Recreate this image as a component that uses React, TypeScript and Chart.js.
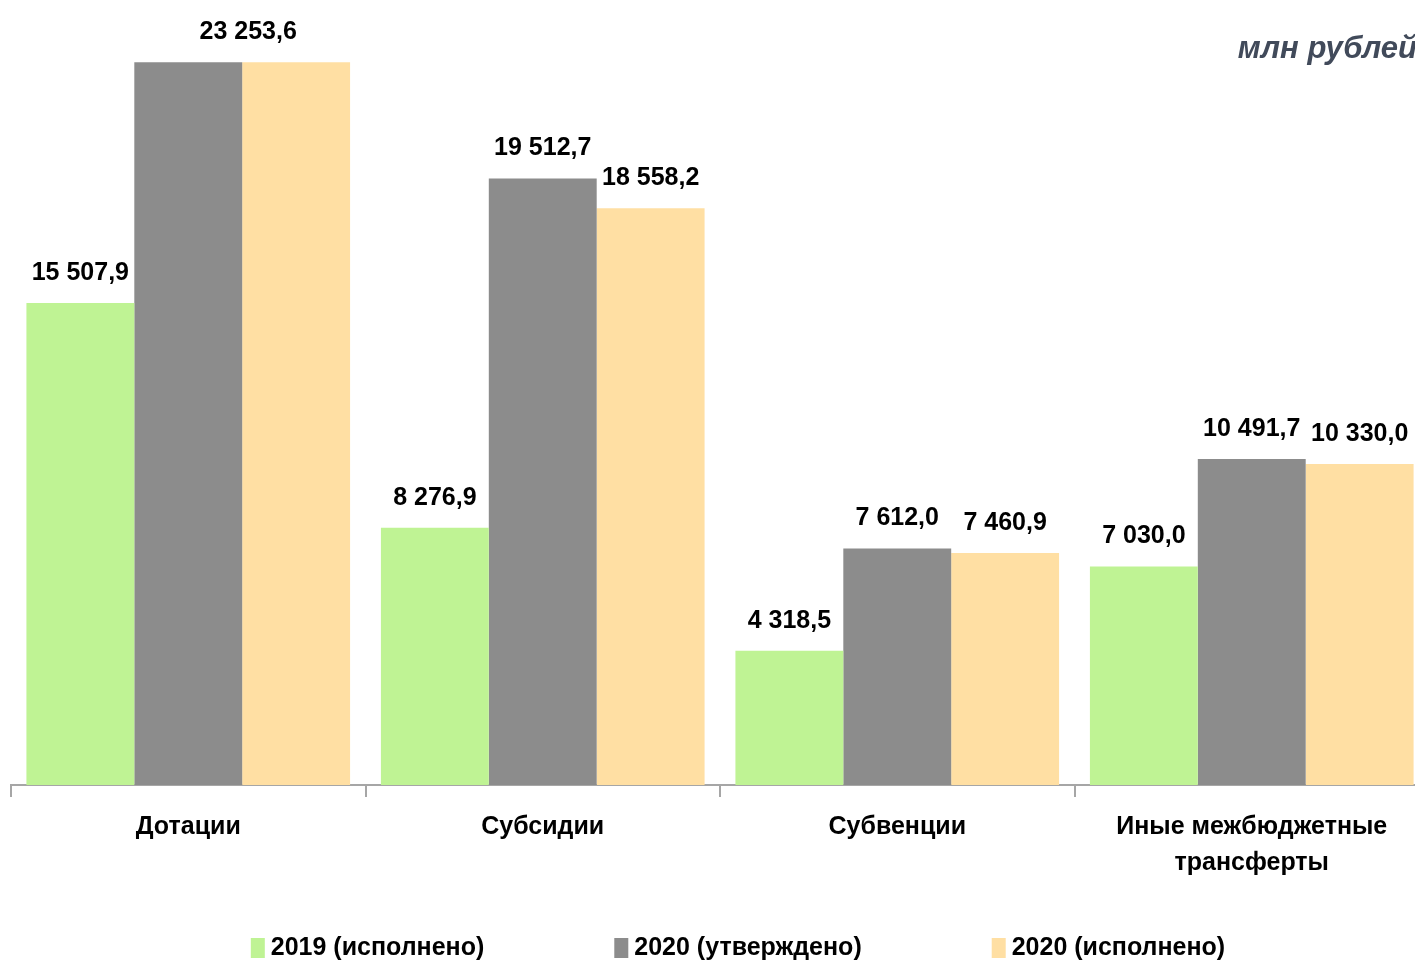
import React, { useEffect, useRef } from "react";
import { Chart, registerables } from "chart.js";

Chart.register(...registerables);

const categories: (string | string[])[] = ["Дотации", "Субсидии", "Субвенции", ["Иные межбюджетные", "трансферты"]];
const seriesNames = ["2019 (исполнено)", "2020 (утверждено)", "2020 (исполнено)"];
const values2019 = [15507.9, 8276.9, 4318.5, 7030.0];
const values2020Plan = [23253.6, 19512.7, 7612.0, 10491.7];
const values2020Fact = [23253.6, 18558.2, 7460.9, 10330.0];
const seriesColors = ["#bff394", "#8c8c8c", "#ffdfa3"];
const unitLabel = "млн рублей";

const FONT = "'Liberation Sans', Arial, sans-serif";

function fmt(v: number): string {
  const [i, d] = v.toFixed(1).split(".");
  return i.replace(/\B(?=(\d{3})+(?!\d))/g, " ") + "," + d;
}

const labelPlugin = {
  id: "barLabels",
  afterDatasetsDraw(chart: any) {
    const ctx = chart.ctx;
    ctx.save();
    ctx.font = `bold 25px ${FONT}`;
    ctx.fillStyle = "#000";
    ctx.textAlign = "center";
    ctx.textBaseline = "middle";
    const n = chart.data.datasets.length;
    for (let i = 0; i < n; i++) {
      const meta = chart.getDatasetMeta(i);
      const data = chart.data.datasets[i].data as number[];
      meta.data.forEach((el: any, j: number) => {
        const v = data[j];
        if (i > 0 && (chart.data.datasets[i - 1].data as number[])[j] === v) return;
        let x = el.x;
        if (i < n - 1 && (chart.data.datasets[i + 1].data as number[])[j] === v) {
          const nextEl = chart.getDatasetMeta(i + 1).data[j] as any;
          x = (el.x + nextEl.x) / 2 + 6;
        }
        ctx.fillText(fmt(v), x, el.y - 30);
      });
    }
    // unit caption
    ctx.font = `italic bold 31px ${FONT}`;
    ctx.fillStyle = "#414a5a";
    ctx.textAlign = "right";
    ctx.fillText(unitLabel, 1409, 41);

    // legend
    ctx.font = `bold 25px ${FONT}`;
    ctx.textAlign = "left";
    const boxW = 14, boxH = 20, boxGap = 6, itemGap = 130;
    const widths = chart.data.datasets.map((ds: any) => boxW + boxGap + ctx.measureText(ds.label).width);
    const total = widths.reduce((a: number, b: number) => a + b, 0) + itemGap * (widths.length - 1);
    const ca = chart.chartArea;
    let x = (ca.left + ca.right) / 2 + 18 - total / 2;
    const y = chart.height - 14;
    chart.data.datasets.forEach((ds: any, i: number) => {
      ctx.fillStyle = ds.backgroundColor;
      ctx.fillRect(x, y - boxH / 2, boxW, boxH);
      ctx.fillStyle = "#000";
      ctx.fillText(ds.label, x + boxW + boxGap, y);
      x += widths[i] + itemGap;
    });
    ctx.restore();
  },
};

export default function App() {
  const ref = useRef<HTMLCanvasElement | null>(null);
  useEffect(() => {
    if (!ref.current) return;
    const chart = new Chart(ref.current, {
      type: "bar",
      data: {
        labels: categories,
        datasets: [values2019, values2020Plan, values2020Fact].map((d, i) => ({
          label: seriesNames[i],
          data: d,
          backgroundColor: seriesColors[i],
          borderWidth: 0,
          barPercentage: 1,
          categoryPercentage: 0.913,
        })),
      },
      options: {
        responsive: false,
        animation: false,
        devicePixelRatio: 1,
        layout: { padding: { left: 3, right: 3, top: 0, bottom: 69 } },
        plugins: {
          legend: { display: false },
          tooltip: { enabled: false },
          title: { display: false },
        },
        scales: {
          y: { display: false, min: 0, max: 25000 },
          x: {
            grid: {
              display: true,
              drawOnChartArea: false,
              drawTicks: true,
              tickLength: 12,
              color: "#a6a6a6",
              lineWidth: 2,
              offset: true,
            },
            border: { display: true, color: "#a6a6a6", width: 2 },
            ticks: {
              color: "#000",
              padding: 12,
              maxRotation: 0,
              autoSkip: false,
              font: { family: FONT, size: 25, weight: "bold", lineHeight: 1.44 },
            },
          },
        },
      },
      plugins: [labelPlugin],
    });
    return () => chart.destroy();
  }, []);
  return (
    <div style={{ width: 1415, height: 954, overflow: "hidden" }}>
      <canvas ref={ref} width={1424} height={954} style={{ width: 1424, height: 954, display: "block" }} />
    </div>
  );
}
